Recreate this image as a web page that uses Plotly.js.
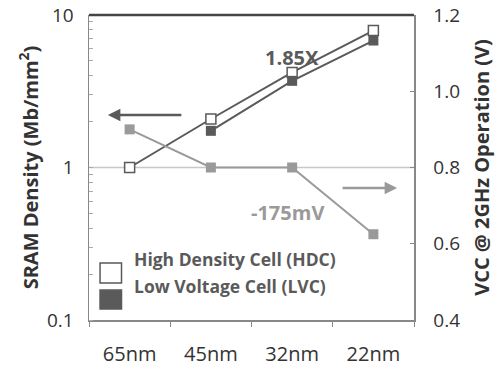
<!DOCTYPE html>
<html><head><meta charset="utf-8">
<script src="https://cdn.plot.ly/plotly-3.0.1.min.js"></script>
<style>html,body{margin:0;padding:0;background:#fff}#c{width:502px;height:366px}</style>
</head><body><div id="c"></div>
<script>
var nodes = ["65nm", "45nm", "32nm", "22nm"];
var hdcDensity = [1.0, 2.08, 4.2, 7.9];
var lvcDensity = [null, 1.74, 3.7, 6.8];
var vccVolts = [0.9, 0.8, 0.8, 0.625];
var leftTicks = [0.1, 1, 10];
var leftTickText = ["0.1", "1", "10"];

var FONT = "Open Sans, sans-serif";
var traces = [
  {x: nodes, y: hdcDensity, name: "High Density Cell (HDC)", mode: "lines+markers", yaxis: "y",
   line: {color: "#5a5a5a", width: 2}, marker: {symbol: "square", size: 10, color: "#fff", line: {color: "#5a5a5a", width: 1.5}}},
  {x: nodes, y: lvcDensity, name: "Low Voltage Cell (LVC)", mode: "lines+markers", yaxis: "y",
   line: {color: "#5a5a5a", width: 2}, marker: {symbol: "square", size: 10, color: "#5a5a5a"}},
  {x: nodes, y: vccVolts, name: "VCC", mode: "lines+markers", yaxis: "y2",
   line: {color: "#9a9a9a", width: 2}, marker: {symbol: "square", size: 10, color: "#9a9a9a"}}
];

var layout = {
  width: 502, height: 366,
  margin: {l: 89, r: 88, t: 15, b: 46},
  paper_bgcolor: "#fff", plot_bgcolor: "#fff",
  showlegend: false,
  font: {family: FONT, color: "#333", size: 18},
  xaxis: {type: "category", showgrid: false, zeroline: false, showline: true, linecolor: "#888", linewidth: 1.5,
    ticks: "outside", tickson: "boundaries", ticklen: 5, tickcolor: "#888", ticklabelstandoff: 15,
    tickfont: {family: FONT, size: 20, color: "#333"}, range: [-0.5, 3.5], fixedrange: true},
  yaxis: {type: "log", range: [-1, 1], showgrid: false, zeroline: false, showline: true, linecolor: "#888", linewidth: 1.5,
    tickvals: leftTicks, ticktext: leftTickText, ticks: "", ticklabelstandoff: 10, tickfont: {family: FONT, size: 19, color: "#333"},
    minor: {ticks: "inside", ticklen: 4, tickcolor: "#aaa", dtick: "D1", showgrid: false},
    title: {text: "<b>SRAM Density (Mb/mm<sup>2</sup>)</b>", font: {family: FONT, size: 20, color: "#333"}, standoff: 3}},
  yaxis2: {overlaying: "y", side: "right", range: [0.4, 1.2], dtick: 0.2, tickformat: ".1f", showgrid: false, zeroline: false,
    showline: true, linecolor: "#888", linewidth: 1.5, ticks: "inside", ticklen: 4, tickcolor: "#888", ticklabelstandoff: 14,
    tickfont: {family: FONT, size: 19, color: "#333"},
    title: {text: "<b>VCC @ 2GHz Operation (V)</b>", font: {family: FONT, size: 20, color: "#333"}, standoff: 16}},
  shapes: [
    {type: "line", xref: "paper", yref: "y", x0: 0, x1: 1, y0: 1, y1: 1, line: {color: "#c8c8c8", width: 1.5}, layer: "below"},
    {type: "line", xref: "paper", yref: "paper", x0: 0, x1: 1, y0: 1, y1: 1, line: {color: "#444", width: 2.5}},
    {type: "rect", xref: "paper", yref: "paper", x0: 0.034, x1: 0.100, y0: 0.121, y1: 0.187, fillcolor: "#fff", line: {color: "#5a5a5a", width: 1.5}},
    {type: "rect", xref: "paper", yref: "paper", x0: 0.034, x1: 0.100, y0: 0.036, y1: 0.098, fillcolor: "#5a5a5a", line: {color: "#5a5a5a", width: 1.5}}
  ],
  annotations: [
    {xref: "paper", yref: "paper", x: 0.058, y: 0.672, ax: 75, ay: 0, showarrow: true, arrowhead: 2, arrowsize: 1, arrowwidth: 2.5, arrowcolor: "#5a5a5a", text: ""},
    {xref: "paper", yref: "paper", x: 0.948, y: 0.433, ax: -56, ay: 0, showarrow: true, arrowhead: 2, arrowsize: 1, arrowwidth: 2.5, arrowcolor: "#9a9a9a", text: ""},
    {xref: "paper", yref: "paper", x: 0.625, y: 0.911, showarrow: false, text: "<b>1.85X</b>", font: {family: FONT, size: 20, color: "#5a5a5a"}},
    {xref: "paper", yref: "paper", x: 0.612, y: 0.351, showarrow: false, text: "<b>-175mV</b>", font: {family: FONT, size: 20, color: "#9a9a9a"}},
    {xref: "paper", yref: "paper", x: 0.132, y: 0.154, xanchor: "left", showarrow: false, text: "<b>High Density Cell (HDC)</b>", font: {family: FONT, size: 17.5, color: "#5a5a5a"}},
    {xref: "paper", yref: "paper", x: 0.132, y: 0.066, xanchor: "left", showarrow: false, text: "<b>Low Voltage Cell (LVC)</b>", font: {family: FONT, size: 17.5, color: "#5a5a5a"}}
  ]
};
Plotly.newPlot("c", traces, layout, {displayModeBar: false, staticPlot: true});
</script></body></html>
